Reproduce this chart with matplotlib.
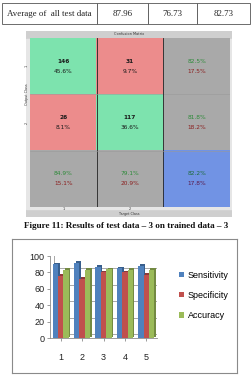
#!/usr/bin/env python3
"""Results table row, confusion matrix and per-test bar chart"""

import numpy as np
import matplotlib
matplotlib.use("Agg")
import matplotlib.pyplot as plt
from matplotlib.colors import ListedColormap
from matplotlib import transforms

W, H = 252, 382

# table row
table_label = "Average of  all test data"
table_values = ["87.96", "76.73", "82.73"]

# confusion matrix (output class x target class)
conf_counts = np.array([[146, 31],
                        [26, 117]])
class_ticks = ["1", "2"]

# bar chart
groups = ["1", "2", "3", "4", "5"]
sensitivity = [90, 92, 87, 85, 88]
specificity = [76, 72, 80, 80, 77]
accuracy = [83, 83, 84, 83, 83]
series_names = ["Sensitivity", "Specificity", "Accuracy"]
series_colors = ["#4F81BD", "#C0504D", "#9BBB59"]
side_colors = ["#385E8C", "#8E3A38", "#738A42"]

caption = "Figure 11: Results of test data \u2013 3 on trained data \u2013 3"


def rect(x, y, w, h):
    """pixel box (top-left origin) -> figure fraction"""
    return [x / W, 1 - (y + h) / H, w / W, h / H]


def main():
    fig = plt.figure(figsize=(W / 100, H / 100), dpi=100)
    fig.patch.set_facecolor("white")

    # ---- table row ----
    ax_t = fig.add_axes(rect(2, 3, 248, 21))
    ax_t.axis("off")
    widths = np.array([95, 51, 49, 53]) / 248
    tbl = ax_t.table(cellText=[[table_label] + table_values],
                     colWidths=list(widths), cellLoc="center",
                     bbox=[0, 0, 1, 1])
    tbl.auto_set_font_size(False)
    for cell in tbl.get_celld().values():
        cell.set_edgecolor("#555555")
        cell.set_linewidth(0.6)
        cell.get_text().set_fontsize(6.4)
        cell.get_text().set_fontfamily("Liberation Serif")
        cell.get_text().set_color("#222222")

    # ---- confusion matrix ----
    ax_f = fig.add_axes(rect(26, 31, 206, 186))
    ax_f.set_facecolor("#cfcfcf")
    ax_f.set_xticks([])
    ax_f.set_yticks([])
    for s in ax_f.spines.values():
        s.set_visible(False)
    ax_f.axhspan(0.965, 1.0, color="#e6e6e6")
    ax_f.text(0.5, 0.982, "Confusion Matrix", ha="center", va="center",
              fontsize=2.5, color="#333333", transform=ax_f.transAxes)
    ax_f.text(0.5, 0.004, "Target Class", ha="center", va="bottom",
              fontsize=2.4, color="#333333", transform=ax_f.transAxes)

    n = conf_counts.shape[0]
    total = conf_counts.sum()
    row_sum = conf_counts.sum(axis=1)
    col_sum = conf_counts.sum(axis=0)

    kind = np.full((n + 1, n + 1), 2)
    for i in range(n):
        for j in range(n):
            kind[i, j] = 0 if i == j else 1
    kind[n, n] = 3
    cmap = ListedColormap(["#7DE3AE", "#EC8C8C", "#A9A9A9", "#7193E4"])

    ax_m = fig.add_axes(rect(30, 38, 200, 169))
    ax_m.imshow(kind, cmap=cmap, vmin=-0.5, vmax=3.5, aspect="auto",
                interpolation="nearest")
    ax_m.set_xticks([])
    ax_m.set_yticks([])
    for s in ax_m.spines.values():
        s.set_visible(False)
    for k in range(1, n + 1):
        ax_m.axvline(k - 0.5, color="#222222", lw=0.6)
        ax_m.axhline(k - 0.5, color="#9a9a9a", lw=0.4)

    fs = 4.2
    for i in range(n):
        for j in range(n):
            ax_m.text(j, i - 0.09, str(conf_counts[i, j]), ha="center",
                      va="center", fontsize=fs, fontweight="bold",
                      color="#1a1a1a")
            ax_m.text(j, i + 0.09, f"{100 * conf_counts[i, j] / total:.1f}%",
                      ha="center", va="center", fontsize=fs, color="#1a1a1a")
    for i in range(n):
        p = 100 * conf_counts[i, i] / row_sum[i]
        ax_m.text(n, i - 0.09, f"{p:.1f}%", ha="center", va="center",
                  fontsize=fs, color="#2E8B3A")
        ax_m.text(n, i + 0.09, f"{100 - p:.1f}%", ha="center", va="center",
                  fontsize=fs, color="#8B1F1F")
    for j in range(n):
        p = 100 * conf_counts[j, j] / col_sum[j]
        ax_m.text(j, n - 0.09, f"{p:.1f}%", ha="center", va="center",
                  fontsize=fs, color="#2E8B3A")
        ax_m.text(j, n + 0.09, f"{100 - p:.1f}%", ha="center", va="center",
                  fontsize=fs, color="#8B1F1F")
    p = 100 * np.trace(conf_counts) / total
    ax_m.text(n, n - 0.09, f"{p:.1f}%", ha="center", va="center",
              fontsize=fs, color="#1E6B3A")
    ax_m.text(n, n + 0.09, f"{100 - p:.1f}%", ha="center", va="center",
              fontsize=fs, color="#5A1A4A")
    for j, t in enumerate(class_ticks):
        ax_m.text(j, n + 0.505, t, ha="center", va="top", fontsize=2.4,
                  color="#333333", clip_on=False)
        ax_m.text(-0.52, j, t, ha="right", va="center", fontsize=2.4,
                  color="#333333", rotation=90, clip_on=False)
    ax_m.text(-0.52, 0.5, "Output Class", ha="right", va="center",
              fontsize=2.4, color="#333333", rotation=90, clip_on=False)

    # ---- caption ----
    fig.text(0.5, 1 - 226 / H, caption, ha="center", va="center",
             fontsize=6.6, fontweight="bold", family="Liberation Serif",
             color="#111111")

    # ---- bar chart ----
    ax_box = fig.add_axes(rect(12, 239, 225, 134))
    ax_box.set_xticks([])
    ax_box.set_yticks([])
    for s in ax_box.spines.values():
        s.set_color("#8a8a8a")
        s.set_linewidth(0.8)

    ax = fig.add_axes(rect(50, 256, 107, 82))
    ax.set_facecolor("none")
    x = np.arange(1, len(groups) + 1)
    bw = 0.25
    depth = transforms.offset_copy(ax.transData, fig=fig, x=1.5, y=1.5,
                                   units="dots")
    back = transforms.offset_copy(ax.transData, fig=fig, x=4, y=4,
                                  units="dots")
    ticks = [0, 20, 40, 60, 80, 100]
    ax.hlines(ticks, 0.5, 5.5, colors="#9a9a9a", lw=0.6,
              transform=back, zorder=0)
    ax.vlines(0.5, 0, 100, colors="#9a9a9a", lw=0.6, transform=back,
              zorder=0)
    for k, vals in enumerate([sensitivity, specificity, accuracy]):
        pos = x + (k - 1) * bw
        ax.bar(pos, vals, width=bw, color=side_colors[k], transform=depth,
               zorder=2 + k)
        ax.bar(pos, vals, width=bw, color=series_colors[k],
               label=series_names[k], zorder=2 + k)
    ax.set_xlim(0.5, 5.5)
    ax.set_ylim(0, 100)
    ax.set_yticks(ticks)
    ax.set_xticks(x)
    ax.set_xticklabels(groups)
    for s in ["top", "right"]:
        ax.spines[s].set_visible(False)
    for s in ["left", "bottom"]:
        ax.spines[s].set_color("#8a8a8a")
        ax.spines[s].set_linewidth(0.6)
    ax.tick_params(axis="both", length=2, width=0.6, color="#8a8a8a",
                   labelsize=6.5, labelcolor="#222222", pad=2)
    ax.tick_params(axis="x", pad=9)
    for lab in ax.get_xticklabels() + ax.get_yticklabels():
        lab.set_fontfamily("Liberation Sans")

    ax.legend(loc="center left", bbox_to_anchor=(1.17, 0.52), frameon=False,
              prop={"family": "Liberation Sans", "size": 6.5},
              handlelength=0.55, handleheight=0.55, handletextpad=0.45,
              labelspacing=1.25, borderaxespad=0)

    plt.savefig("out.png", dpi=100)


if __name__ == "__main__":
    main()
